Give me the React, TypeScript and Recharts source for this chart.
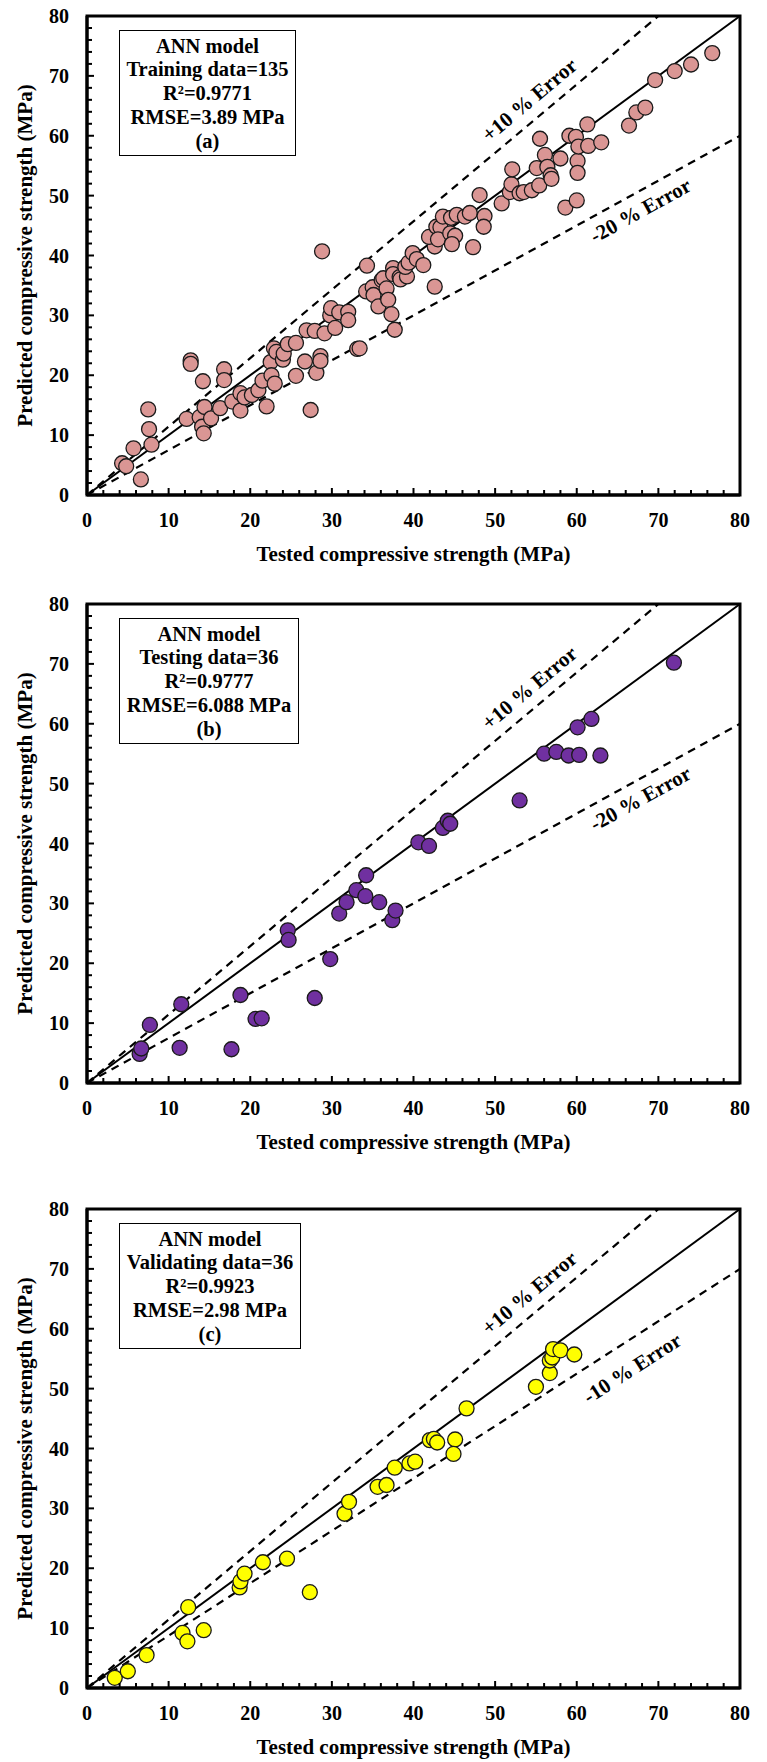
import React from "react";
import { ScatterChart, Scatter, XAxis, YAxis, ReferenceLine, ReferenceArea, ReferenceDot, Label } from "recharts";

// tested (x) / predicted (y) strength, MPa
const trainingTested = [
  4.3, 4.8, 5.7, 6.6, 7.5, 7.6, 7.9, 12.2, 12.7, 12.7, 13.8, 14.2, 14.1, 14.3, 14.4, 15.2, 16.3, 16.8, 16.8, 17.8,
  18.8, 18.8, 19.3, 20.2, 21.0, 21.5, 22.0, 22.5, 22.6, 22.9, 23.2, 23.0, 24.0, 24.1, 24.6, 25.6, 25.6, 26.7, 26.9, 27.4,
  27.9, 28.1, 28.6, 28.6, 28.8, 29.1, 29.8, 29.9, 30.4, 30.9, 32.0, 32.0, 33.1, 33.4, 34.2, 34.3, 35.0, 35.1, 35.7, 36.1,
  36.3, 36.7, 36.9, 37.3, 37.5, 37.5, 37.7, 38.3, 38.4, 39.2, 39.0, 39.4, 39.9, 40.4, 41.2, 42.6, 42.6, 41.9, 42.8, 43.3,
  43.0, 43.6, 44.5, 45.1, 44.7, 44.6, 45.3, 46.3, 46.9, 47.3, 48.1, 48.7, 48.6, 50.8, 51.8, 52.0, 52.1, 53.0, 53.5, 54.5,
  55.1, 55.4, 55.5, 56.1, 56.4, 56.8, 56.9, 58.0, 58.6, 59.1, 59.9, 60.0, 60.1, 60.1, 60.2, 61.3, 61.4, 63.0, 66.4, 67.3,
  68.4, 69.6, 72.0, 74.0, 76.6,
];
const trainingPredicted = [
  5.3, 4.8, 7.8, 2.6, 14.3, 11.0, 8.4, 12.7, 22.5, 21.9, 13.0, 19.0, 11.4, 10.3, 14.7, 12.8, 14.5, 21.0, 19.2, 15.6,
  17.0, 14.1, 16.3, 16.7, 17.5, 19.1, 14.8, 22.2, 20.0, 24.5, 23.9, 18.6, 22.6, 23.6, 25.2, 25.4, 19.9, 22.3, 27.5, 14.2,
  27.4, 20.4, 23.2, 22.4, 40.7, 27.0, 30.0, 31.2, 27.9, 30.5, 30.6, 29.2, 24.4, 24.5, 34.0, 38.3, 34.7, 33.4, 31.5, 35.9,
  36.2, 34.5, 32.6, 30.2, 37.9, 36.9, 27.6, 36.4, 36.0, 36.5, 38.1, 38.8, 40.4, 39.4, 38.4, 34.8, 41.5, 43.1, 44.8, 44.7,
  42.7, 46.5, 43.7, 43.3, 41.9, 46.3, 46.8, 46.5, 47.1, 41.4, 50.1, 46.6, 44.8, 48.7, 50.6, 51.9, 54.4, 50.4, 50.6, 50.9,
  54.6, 51.7, 59.5, 56.8, 54.8, 53.4, 52.8, 56.2, 48.0, 60.0, 59.8, 49.2, 55.8, 53.8, 58.2, 61.9, 58.3, 58.9, 61.7, 63.9,
  64.7, 69.3, 70.8, 71.9, 73.8,
];

const testingTested = [
  6.45, 6.65, 7.7, 11.55, 11.35, 17.7, 18.8, 20.65, 21.4, 27.9, 29.8, 24.6, 24.7, 30.9, 31.8, 33.0, 34.2, 34.1,
  35.8, 37.4, 37.8, 40.6, 41.9, 43.6, 44.2, 44.5, 53.0, 56.0, 57.5, 59.0, 60.3, 62.9, 60.1, 61.8, 71.9,
];
const testingPredicted = [
  4.85, 5.76, 9.7, 13.15, 5.88, 5.64, 14.7, 10.7, 10.8, 14.2, 20.7, 25.5, 23.9, 28.3, 30.2, 32.2, 34.7, 31.2,
  30.2, 27.2, 28.8, 40.2, 39.6, 42.6, 43.8, 43.3, 47.2, 55.0, 55.3, 54.7, 54.8, 54.7, 59.4, 60.8, 70.2,
];

const validatingTested = [
  3.4, 5.0, 7.3, 11.7, 12.3, 12.4, 14.3, 18.7, 18.8, 19.3, 21.55, 24.5, 27.3, 31.55, 32.1, 35.6, 36.7, 37.7,
  39.5, 40.2, 42.0, 42.5, 42.9, 45.1, 44.9, 46.5, 55.0, 56.7, 56.7, 57.0, 57.1, 58.0, 59.7,
];
const validatingPredicted = [
  1.7, 2.8, 5.5, 9.2, 7.8, 13.5, 9.65, 16.8, 17.8, 19.1, 21.0, 21.6, 16.0, 29.1, 31.1, 33.6, 33.9, 36.8,
  37.5, 37.8, 41.4, 41.6, 41.0, 41.5, 39.1, 46.7, 50.3, 52.6, 54.7, 55.2, 56.6, 56.4, 55.7,
];

const axisTicks = [
  0, 2, 4, 6, 8, 10, 12, 14, 16, 18, 20, 22, 24, 26, 28, 30, 32, 34, 36, 38, 40,
  42, 44, 46, 48, 50, 52, 54, 56, 58, 60, 62, 64, 66, 68, 70, 72, 74, 76, 78, 80,
];

const FONT = "'Liberation Serif', 'Times New Roman', serif";
const W = 767;
const H = 569;
const PLOT_TOP = 16;

const toPoints = (xs: number[], ys: number[]) => xs.map((x, i) => ({ x, y: ys[i] }));

function YTick(props: any) {
  const { x, y, payload } = props;
  const v = payload.value;
  const major = v % 10 === 0;
  return (
    <g>
      <line x1={x} x2={x + (major ? 7 : 5)} y1={y} y2={y} stroke="#000" strokeWidth={2} />
      {major && (
        <text x={x - 18} y={y + 7} textAnchor="end" fontFamily={FONT} fontWeight="bold" fontSize={20} fill="#000">
          {v}
        </text>
      )}
    </g>
  );
}

function XTick(props: any) {
  const { x, y, payload } = props;
  const v = payload.value;
  const major = v % 10 === 0;
  return (
    <g>
      <line x1={x} x2={x} y1={y} y2={y - (major ? 7 : 5)} stroke="#000" strokeWidth={2} />
      {major && (
        <text x={x} y={y + 32} textAnchor="middle" fontFamily={FONT} fontWeight="bold" fontSize={20} fill="#000">
          {v}
        </text>
      )}
    </g>
  );
}

function rotatedText(text: string, angle: number) {
  return (p: any) => (
    <text
      x={p.cx}
      y={p.cy}
      transform={`rotate(${angle} ${p.cx} ${p.cy})`}
      textAnchor="middle"
      dominantBaseline="central"
      fontFamily={FONT}
      fontWeight="bold"
      fontSize={21}
      fill="#000"
    >
      {text}
    </text>
  );
}

type PanelProps = {
  top: number;
  data: { x: number; y: number }[];
  fill: string;
  lines: string[];
  boxWidth: number;
  lowerEnd: number;
  lowerText: string;
  lowerAngle: number;
  lowerPos: [number, number];
};

function Panel({ top, data, fill, lines, boxWidth, lowerEnd, lowerText, lowerAngle, lowerPos }: PanelProps) {
  return (
    <div style={{ position: "absolute", left: 0, top, width: W, height: H }}>
      <ScatterChart width={W} height={H} margin={{ top: PLOT_TOP, right: 27, left: 0, bottom: 4 }}>
        <XAxis
          type="number"
          dataKey="x"
          domain={[0, 80]}
          ticks={axisTicks}
          interval={0}
          tickSize={0}
          tickMargin={0}
          tickLine={false}
          tick={<XTick />}
          axisLine={{ stroke: "#000", strokeWidth: 3 }}
          height={70}
        >
          <Label
            content={(p: any) => {
              const vb = p.viewBox;
              return (
                <text
                  x={vb.x + vb.width / 2}
                  y={vb.y + 66}
                  textAnchor="middle"
                  fontFamily={FONT}
                  fontWeight="bold"
                  fontSize={21}
                  fill="#000"
                >
                  Tested compressive strength (MPa)
                </text>
              );
            }}
          />
        </XAxis>
        <YAxis
          type="number"
          dataKey="y"
          domain={[0, 80]}
          ticks={axisTicks}
          interval={0}
          tickSize={0}
          tickMargin={0}
          tickLine={false}
          tick={<YTick />}
          axisLine={{ stroke: "#000", strokeWidth: 3 }}
          width={87}
        >
          <Label
            content={(p: any) => {
              const vb = p.viewBox;
              const cx = vb.x + 25;
              const cy = vb.y + vb.height / 2;
              return (
                <text
                  x={cx}
                  y={cy}
                  transform={`rotate(-90 ${cx} ${cy})`}
                  textAnchor="middle"
                  dominantBaseline="central"
                  fontFamily={FONT}
                  fontWeight="bold"
                  fontSize={21}
                  fill="#000"
                >
                  Predicted compressive strength (MPa)
                </text>
              );
            }}
          />
        </YAxis>
        <ReferenceArea x1={0} x2={80} y1={0} y2={80} fill="none" stroke="#000" strokeWidth={3} />
        <ReferenceLine segment={[{ x: 0, y: 0 }, { x: 80, y: 80 }]} stroke="#000" strokeWidth={2} />
        <ReferenceLine
          segment={[{ x: 0, y: 0 }, { x: 70, y: 80 }]}
          stroke="#000"
          strokeWidth={2.2}
          strokeDasharray="8 6"
        />
        <ReferenceLine
          segment={[{ x: 0, y: 0 }, { x: 80, y: lowerEnd }]}
          stroke="#000"
          strokeWidth={2.2}
          strokeDasharray="8 6"
        />
        <ReferenceDot x={54.2} y={66} r={1} shape={rotatedText("+10 % Error", -40)} />
        <ReferenceDot x={lowerPos[0]} y={lowerPos[1]} r={1} shape={rotatedText(lowerText, -lowerAngle)} />
        <Scatter
          data={data}
          isAnimationActive={false}
          shape={(p: any) => <circle cx={p.cx} cy={p.cy} r={7.5} fill={fill} stroke="#1a1a1a" strokeWidth={1.3} />}
        />
      </ScatterChart>
      <div
        style={{
          position: "absolute",
          left: 119,
          top: PLOT_TOP + 14,
          width: boxWidth,
          height: 126,
          boxSizing: "border-box",
          border: "1.5px solid #000",
          background: "#fff",
          paddingTop: 3.5,
          textAlign: "center",
          fontFamily: FONT,
          fontWeight: "bold",
          fontSize: 20.5,
          lineHeight: "23.8px",
          color: "#000",
          whiteSpace: "nowrap",
        }}
      >
        {lines.map((l) => (
          <div key={l}>{l}</div>
        ))}
      </div>
    </div>
  );
}

export default function App() {
  return (
    <div style={{ position: "absolute", left: 0, top: 0, width: W, height: 1762, background: "#fff" }}>
      <Panel
        top={0}
        data={toPoints(trainingTested, trainingPredicted)}
        fill="#DA9694"
        lines={["ANN model", "Training data=135", "R\u00b2=0.9771", "RMSE=3.89 MPa", "(a)"]}
        boxWidth={177}
        lowerEnd={60}
        lowerText="-20 % Error"
        lowerAngle={28.8}
        lowerPos={[67.8, 47.5]}
      />
      <Panel
        top={588}
        data={toPoints(testingTested, testingPredicted)}
        fill="#7030A0"
        lines={["ANN model", "Testing data=36", "R\u00b2=0.9777", "RMSE=6.088 MPa", "(b)"]}
        boxWidth={180}
        lowerEnd={60}
        lowerText="-20 % Error"
        lowerAngle={28.8}
        lowerPos={[67.8, 47.5]}
      />
      <Panel
        top={1193}
        data={toPoints(validatingTested, validatingPredicted)}
        fill="#FFFF00"
        lines={["ANN model", "Validating data=36", "R\u00b2=0.9923", "RMSE=2.98 MPa", "(c)"]}
        boxWidth={182}
        lowerEnd={70}
        lowerText="-10 % Error"
        lowerAngle={32.7}
        lowerPos={[66.8, 53.4]}
      />
    </div>
  );
}
